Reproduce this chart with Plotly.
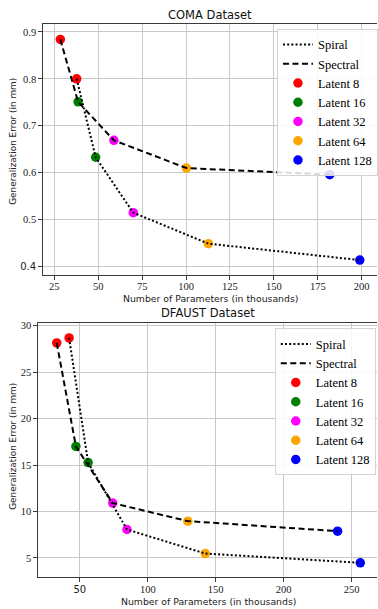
import plotly.graph_objects as go

# ---------------- data ----------------
latents = ["Latent 8", "Latent 16", "Latent 32", "Latent 64", "Latent 128"]
latent_colors = ["#ff0000", "#008000", "#ff00ff", "#ffa500", "#0000ff"]

coma_spiral_x = [37.7, 48.5, 69.9, 112.7, 198.9]
coma_spiral_y = [0.800, 0.633, 0.515, 0.449, 0.414]
coma_spectral_x = [28.4, 38.5, 58.9, 100.2, 181.8]
coma_spectral_y = [0.884, 0.751, 0.669, 0.610, 0.596]

dfaust_spiral_x = [42.1, 56.1, 84.7, 142.3, 256.4]
dfaust_spiral_y = [28.68, 15.26, 8.06, 5.47, 4.47]
dfaust_spectral_x = [33.0, 47.1, 74.2, 129.5, 239.7]
dfaust_spectral_y = [28.14, 17.0, 10.9, 8.96, 7.88]

coma_xticks = [25, 50, 75, 100, 125, 150, 175, 200]
coma_yticks = [0.4, 0.5, 0.6, 0.7, 0.8, 0.9]
coma_yticklabels = ["0.4", "0.5", "0.6", "0.7", "0.8", "0.9"]
dfaust_xticks = [50, 100, 150, 200, 250]
dfaust_xticklabels = ["50", "100", "150", "200", "250"]
dfaust_yticks = [5, 10, 15, 20, 25, 30]

titles = ["COMA Dataset", "DFAUST Dataset"]
xlabel = "Number of Parameters (in thousands)"
ylabel = "Generalization Error (in mm)"

# ---------------- figure ----------------
W, H = 378, 609
fig = go.Figure()

SERIF = "'Liberation Serif', 'Times New Roman', Times, serif"
SANS = "'DejaVu Sans', sans-serif"
SPINE = "#3a3a3a"
GRID = "#c9c9c9"
DOT = "2px,2.2px"
DASH = "6px,3.5px"


def add_panel(sx, sy, px, py, xa, ya, leg):
    for i, name in enumerate(latents):
        fig.add_trace(go.Scatter(
            x=[sx[i], px[i]], y=[sy[i], py[i]], mode="markers", name=name,
            marker=dict(color=latent_colors[i], size=9.5, line=dict(width=0)),
            xaxis=xa, yaxis=ya, legend=leg, legendrank=10 + i,
        ))
    fig.add_trace(go.Scatter(
        x=sx, y=sy, mode="lines", name="Spiral",
        line=dict(color="black", width=2, dash=DOT),
        xaxis=xa, yaxis=ya, legend=leg, legendrank=1,
    ))
    fig.add_trace(go.Scatter(
        x=px, y=py, mode="lines", name="Spectral",
        line=dict(color="black", width=2, dash=DASH),
        xaxis=xa, yaxis=ya, legend=leg, legendrank=2,
    ))


add_panel(coma_spiral_x, coma_spiral_y, coma_spectral_x, coma_spectral_y, "x", "y", "legend")
add_panel(dfaust_spiral_x, dfaust_spiral_y, dfaust_spectral_x, dfaust_spectral_y, "x2", "y2", "legend2")


def px2paper_y(py):
    return 1 - py / H


def sans(t):
    return f'<span style="font-family:DejaVu Sans;font-size:10px">{t}</span>'


axis_common = dict(
    showgrid=True, gridcolor=GRID, gridwidth=1, zeroline=False,
    showline=True, linecolor=SPINE, linewidth=1.3,
    ticks="outside", ticklen=4, tickwidth=1, tickcolor=SPINE,
    tickfont=dict(family=SERIF, size=10.5, color="#222"),
)

coma_ytext = [(sans(t) if t == "0.4" else t) for t in coma_yticklabels]
dfaust_xtext = [(sans(t) if t == "50" else t) for t in dfaust_xticklabels]

legend_common = dict(
    xanchor="left", yanchor="top",
    bgcolor="rgba(255,255,255,0.85)", bordercolor="#d4d4d4", borderwidth=1,
    font=dict(family=SERIF, size=12.5, color="black"), itemwidth=30,
    tracegroupgap=0,
)

fig.update_layout(
    width=W, height=H,
    margin=dict(l=0, r=0, t=0, b=0),
    paper_bgcolor="white", plot_bgcolor="white",
    xaxis=dict(axis_common, domain=[43.5 / W, 1.0], range=[18.75, 208.7],
               tickvals=coma_xticks, mirror=True, anchor="y", ticklabelstandoff=-2),
    yaxis=dict(axis_common, domain=[px2paper_y(273), px2paper_y(21)], range=[0.383, 0.917],
               tickvals=coma_yticks, ticktext=coma_ytext, anchor="x"),
    xaxis2=dict(axis_common, domain=[38.5 / W, 1.0], range=[19.5, 268.7],
                tickvals=dfaust_xticks, ticktext=dfaust_xtext, mirror=True, anchor="y2",
                ticklabelstandoff=-2),
    yaxis2=dict(axis_common, domain=[px2paper_y(576.7), px2paper_y(321.5)], range=[2.96, 30.3],
                tickvals=dfaust_yticks, anchor="x2"),
    legend=dict(legend_common, x=277.7 / W, y=px2paper_y(26)),
    legend2=dict(legend_common, x=275.5 / W, y=px2paper_y(327)),
    showlegend=True,
)

ann_font_title = dict(family=SANS, size=11.5, color="#111")
ann_font_xlabel = dict(family=SANS, size=9.3, color="#222")
ann_font_ylabel = dict(family=SANS, size=8.9, color="#222")
annotations = [
    dict(text=titles[0], x=210.5 / W, y=px2paper_y(12), xref="paper", yref="paper",
         showarrow=False, font=ann_font_title, xanchor="center", yanchor="middle"),
    dict(text=titles[1], x=209 / W, y=px2paper_y(312), xref="paper", yref="paper",
         showarrow=False, font=ann_font_title, xanchor="center", yanchor="middle"),
    dict(text=xlabel, x=211 / W, y=px2paper_y(296.5), xref="paper", yref="paper",
         showarrow=False, font=ann_font_xlabel, xanchor="center", yanchor="middle"),
    dict(text=xlabel, x=209 / W, y=px2paper_y(601), xref="paper", yref="paper",
         showarrow=False, font=ann_font_xlabel, xanchor="center", yanchor="middle"),
    dict(text=ylabel, x=13 / W, y=px2paper_y(138.5), xref="paper", yref="paper",
         showarrow=False, font=ann_font_ylabel, textangle=-90, xanchor="center", yanchor="middle"),
    dict(text=ylabel, x=13 / W, y=px2paper_y(445), xref="paper", yref="paper",
         showarrow=False, font=ann_font_ylabel, textangle=-90, xanchor="center", yanchor="middle"),
]
fig.update_layout(annotations=annotations)

fig.write_html(
    "out.html",
    config={"displayModeBar": False},
    post_script="document.body.style.margin='0';document.body.style.padding='0';"
                "document.documentElement.style.overflow='hidden';",
)
